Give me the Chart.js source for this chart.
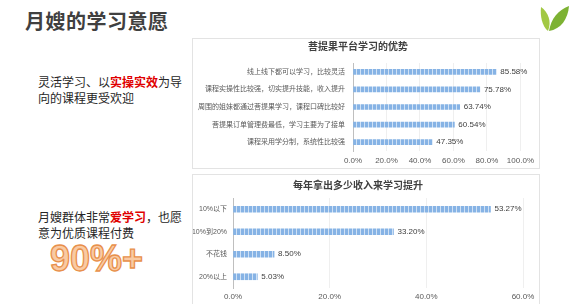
<!DOCTYPE html>
<html>
<head>
<meta charset="utf-8">
<script src="https://cdn.jsdelivr.net/npm/chart.js@4/dist/chart.umd.min.js"></script>
<style>
  body { margin: 0; width: 571px; height: 304px; overflow: hidden; background: #fff; position: relative;
         font-family: "Noto Sans CJK SC", "Liberation Sans", sans-serif; }
  .abs { position: absolute; }
  #title { left: 25px; top: 6px; font-size: 20px; font-weight: bold; color: #404040; letter-spacing: 0.5px; }
  .note { left: 38px; font-size: 12px; line-height: 16px; color: #262626; white-space: nowrap; }
  .note b { color: #e00000; }
  #big { left: 50px; top: 238px; font-family: "Liberation Sans", sans-serif; font-size: 36px; font-weight: bold;
         color: #f9caa3; -webkit-text-stroke: 1.3px #e8904b; }
  .box { border: 1px solid #e3e3e3; box-sizing: border-box; left: 192px; width: 348px; }
  .box div { position: relative; width: 346px; height: 129px; }
</style>
</head>
<body>
<div id="title" class="abs">月嫂的学习意愿</div>
<svg class="abs" style="left:539px;top:4px" width="30" height="28" viewBox="0 0 30 28">
  <path d="M9 27 C3 22 1 12 2 3 C9 8 13 17 9 27 Z" fill="#a2c843"/>
  <path d="M10 27 C12 15 19 6 30 2 C29 15 22 25 10 27 Z" fill="#7db233"/>
</svg>

<div class="abs note" style="top:74px">灵活学习、以<b>实操实效</b>为导<br>向的课程更受欢迎</div>
<div class="abs note" style="top:209px">月嫂群体非常<b>爱学习</b>，也愿<br>意为优质课程付费</div>
<div id="big" class="abs">90%+</div>

<div class="abs box" style="top:38px;height:131px"><div><canvas id="advantage"></canvas></div></div>
<div class="abs box" style="top:174px;height:132px"><div><canvas id="income"></canvas></div></div>

<script>
const advantageLabels = [
  '线上线下都可以学习，比较灵活',
  '课程实操性比较强，切实提升技能，收入提升',
  '周围的姐妹都通过菩提果学习，课程口碑比较好',
  '菩提果订单管理费最低，学习主要为了接单',
  '课程采用学分制，系统性比较强'
]
const advantageValues = [85.58, 75.78, 63.74, 60.54, 47.35]
const advantageTicks = [0, 20, 40, 60, 80, 100]

const incomeLabels = ['10%以下', '10%到20%', '不花钱', '20%以上']
const incomeValues = [53.27, 33.20, 8.50, 5.03]
const incomeTicks = [0, 20, 40, 60]

const FONT = '"Liberation Sans", "Noto Sans CJK SC", sans-serif'

// striped light blue fill like the original bars
function barPattern() {
  const c = document.createElement('canvas')
  c.width = 4
  c.height = 4
  const g = c.getContext('2d')
  g.fillStyle = '#86b3e5'
  g.fillRect(0, 0, 4, 4)
  g.fillStyle = '#cfe1f5'
  g.fillRect(3, 0, 1, 4)
  return g.createPattern(c, 'repeat')
}

const valueLabels = {
  id: 'valueLabels',
  afterDatasetsDraw(chart) {
    const ctx = chart.ctx
    const values = chart.data.datasets[0].data
    ctx.save()
    ctx.font = '8px ' + FONT
    ctx.fillStyle = '#404040'
    ctx.textBaseline = 'middle'
    chart.getDatasetMeta(0).data.forEach((bar, i) => {
      ctx.fillText(values[i].toFixed(2) + '%', bar.x + 4, bar.y)
    })
    ctx.restore()
  }
}

function makeConfig(opts) {
  return {
    type: 'bar',
    data: {
      labels: opts.labels,
      datasets: [{
        data: opts.values,
        backgroundColor: barPattern(),
        barThickness: opts.barThickness
      }]
    },
    plugins: [valueLabels],
    options: {
      indexAxis: 'y',
      responsive: true,
      maintainAspectRatio: false,
      animation: false,
      layout: { padding: { left: 0, right: 16, top: 0, bottom: 0 } },
      plugins: {
        legend: { display: false },
        tooltip: { enabled: false },
        title: {
          display: true,
          text: opts.title,
          color: '#404040',
          font: { family: FONT, size: opts.titleSize, weight: 'bold' },
          padding: opts.titlePadding
        }
      },
      scales: {
        x: {
          min: 0,
          max: opts.ticks[opts.ticks.length - 1],
          afterBuildTicks: scale => { scale.ticks = opts.ticks.map(v => ({ value: v })) },
          afterFit: scale => { scale.height = opts.xHeight },
          grid: { color: '#efefef', drawTicks: false },
          border: { display: false },
          ticks: {
            color: '#595959',
            font: { family: FONT, size: 8 },
            padding: opts.xPad,
            maxRotation: 0,
            callback: v => v.toFixed(1) + '%'
          }
        },
        y: {
          afterFit: scale => { scale.width = opts.yWidth },
          grid: { display: false, drawTicks: false },
          border: { display: true, color: '#bfbfbf' },
          ticks: {
            color: '#595959',
            font: { family: FONT, size: opts.ySize },
            padding: opts.yPad
          }
        }
      }
    }
  }
}

const charts = {
  advantage: new Chart(document.getElementById('advantage'), makeConfig({
    labels: advantageLabels,
    values: advantageValues,
    ticks: advantageTicks,
    title: '菩提果平台学习的优势',
    titleSize: 10,
    titlePadding: { top: 2, bottom: 10 },
    barThickness: 5,
    xHeight: 17,
    xPad: 5,
    yWidth: 160,
    ySize: 7,
    yPad: 8
  })),
  income: new Chart(document.getElementById('income'), makeConfig({
    labels: incomeLabels,
    values: incomeValues,
    ticks: incomeTicks,
    title: '每年拿出多少收入来学习提升',
    titleSize: 10,
    titlePadding: { top: 5, bottom: 6 },
    barThickness: 6,
    xHeight: 16,
    xPad: 4,
    yWidth: 40,
    ySize: 7,
    yPad: 6
  }))
}
</script>
</body>
</html>
